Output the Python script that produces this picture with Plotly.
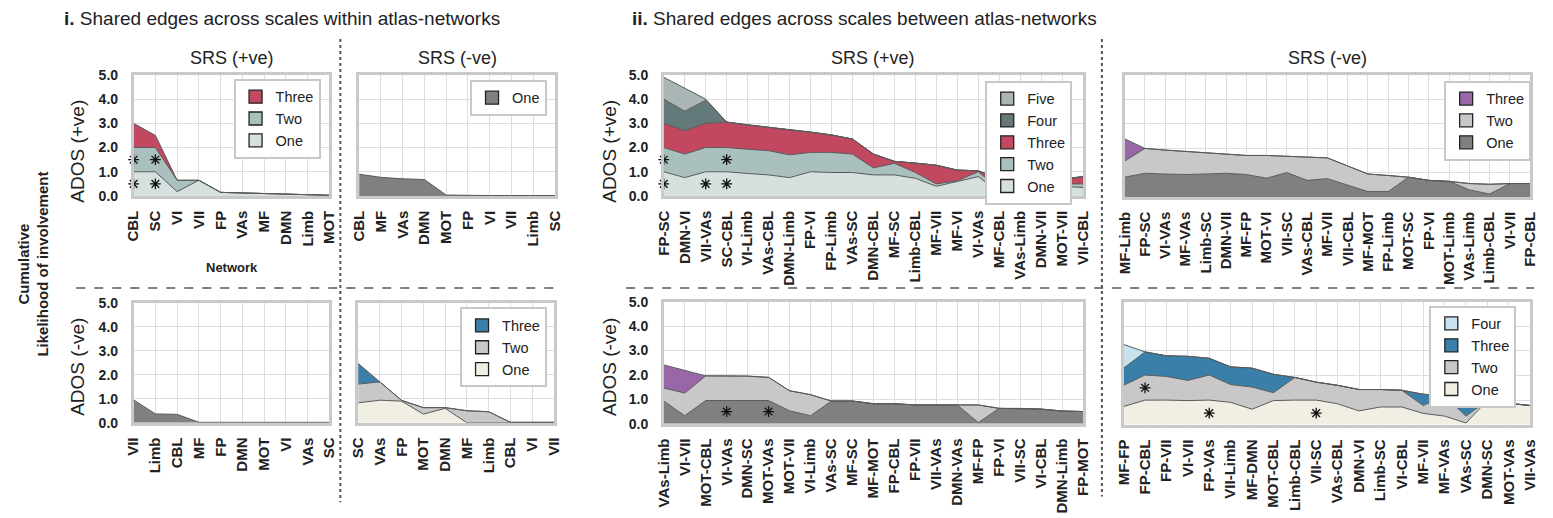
import plotly.graph_objects as go

W, H = 1553, 518
FONT = "Liberation Sans"
# the page body keeps its default 8px margin, so layout positions are given relative to it
PAGE_OFFSET = 8

# ---------------- data ----------------
# i. within atlas-networks
i_pos_pos_cats = ["CBL", "SC", "VI", "VII", "FP", "VAs", "MF", "DMN", "Limb", "MOT"]
i_pos_pos_one = [1.0, 1.0, 0.18, 0.65, 0.15, 0.13, 0.12, 0.10, 0.08, 0.03]
i_pos_pos_two = [1.0, 1.0, 0.47, 0.0, 0.0, 0.0, 0.0, 0.0, 0.0, 0.0]
i_pos_pos_three = [1.0, 0.5, 0.0, 0.0, 0.0, 0.0, 0.0, 0.0, 0.0, 0.0]
i_pos_pos_stars_x = ["CBL", "CBL", "SC", "SC"]
i_pos_pos_stars_y = [0.5, 1.5, 0.5, 1.5]

i_neg_pos_cats = ["CBL", "MF", "VAs", "DMN", "MOT", "FP", "VI", "VII", "Limb", "SC"]
i_neg_pos_one = [0.9, 0.77, 0.71, 0.68, 0.04, 0.02, 0.02, 0.02, 0.02, 0.02]

i_pos_neg_cats = ["VII", "Limb", "CBL", "MF", "FP", "DMN", "MOT", "VI", "VAs", "SC"]
i_pos_neg_one = [0.95, 0.37, 0.35, 0.02, 0.02, 0.02, 0.02, 0.02, 0.02, 0.02]

i_neg_neg_cats = ["SC", "VAs", "FP", "MOT", "DMN", "MF", "Limb", "CBL", "VI", "VII"]
i_neg_neg_one = [0.83, 0.94, 0.90, 0.36, 0.60, 0.0, 0.0, 0.0, 0.0, 0.0]
i_neg_neg_two = [0.78, 0.76, 0.03, 0.27, 0.03, 0.50, 0.46, 0.02, 0.02, 0.02]
i_neg_neg_three = [0.86, 0.0, 0.0, 0.0, 0.0, 0.0, 0.0, 0.0, 0.0, 0.0]

# ii. between atlas-networks
ii_pos_pos_cats = ["FP-SC", "DMN-VI", "VII-VAs", "SC-CBL", "VI-Limb", "VAs-CBL", "DMN-Limb",
                   "FP-VI", "FP-Limb", "VAs-SC", "DMN-CBL", "MF-SC", "Limb-CBL", "MF-VII",
                   "MF-VI", "VI-VAs", "MF-CBL", "VAs-Limb", "DMN-VII", "MOT-VII", "VII-CBL"]
ii_pos_pos_one = [1.0, 0.76, 1.0, 1.0, 0.93, 0.87, 0.76, 1.0, 0.97, 0.97, 0.87,
                  0.87, 0.73, 0.40, 0.60, 0.80, 0.15, 0.20, 0.20, 0.40, 0.35]
ii_pos_pos_two = [1.0, 0.97, 1.0, 1.0, 1.0, 1.0, 0.94, 0.80, 0.83, 0.76, 0.29,
                  0.48, 0.24, 0.10, 0.03, 0.20, 0.15, 0.0, 0.10, 0.10, 0.15]
ii_pos_pos_three = [1.0, 0.97, 1.0, 1.05, 1.0, 0.97, 1.03, 0.84, 0.72, 0.62, 0.57,
                    0.08, 0.39, 0.77, 0.44, 0.04, 0.40, 0.0, 0.40, 0.20, 0.30]
ii_pos_pos_four = [1.0, 0.80, 0.95, 0.0, 0.0, 0.0, 0.0, 0.0, 0.0, 0.0, 0.0,
                   0.0, 0.0, 0.0, 0.0, 0.0, 0.0, 0.47, 0.0, 0.0, 0.0]
ii_pos_pos_five = [0.90, 0.95, 0.05, 0.0, 0.0, 0.0, 0.0, 0.0, 0.0, 0.0, 0.0,
                   0.0, 0.0, 0.0, 0.0, 0.0, 0.0, 0.0, 0.0, 0.0, 0.0]
ii_pos_pos_stars_x = ["FP-SC", "FP-SC", "VII-VAs", "SC-CBL", "SC-CBL"]
ii_pos_pos_stars_y = [0.5, 1.5, 0.5, 0.5, 1.5]

ii_neg_pos_cats = ["MF-Limb", "FP-SC", "VI-VAs", "MF-VAs", "Limb-SC", "DMN-VII", "MF-FP",
                   "MOT-VI", "VII-SC", "VAs-CBL", "MF-VII", "VII-CBL", "MF-MOT", "FP-Limb",
                   "MOT-SC", "FP-VI", "MOT-Limb", "VAs-Limb", "Limb-CBL", "VI-VII", "FP-CBL"]
ii_neg_pos_one = [0.81, 0.97, 0.94, 0.92, 0.94, 0.97, 0.92, 0.77, 1.0, 0.68, 0.75,
                  0.48, 0.22, 0.22, 0.81, 0.68, 0.64, 0.29, 0.12, 0.55, 0.55]
ii_neg_pos_two = [0.66, 1.02, 0.98, 0.94, 0.89, 0.78, 0.78, 0.93, 0.66, 0.94, 0.85,
                  0.79, 0.72, 0.66, 0.0, 0.0, 0.0, 0.26, 0.40, 0.0, 0.0]
ii_neg_pos_three = [0.91, 0.0, 0.0, 0.0, 0.0, 0.0, 0.0, 0.0, 0.0, 0.0, 0.0,
                    0.0, 0.0, 0.0, 0.0, 0.0, 0.0, 0.0, 0.0, 0.0, 0.0]

ii_pos_neg_cats = ["VAs-Limb", "VI-VII", "MOT-CBL", "VI-VAs", "DMN-SC", "MOT-VAs", "MOT-VII",
                   "VI-Limb", "VAs-SC", "MF-SC", "MF-MOT", "FP-CBL", "FP-VII", "VII-VAs",
                   "DMN-VAs", "MF-FP", "FP-VI", "VII-SC", "VI-CBL", "DMN-Limb", "FP-MOT"]
ii_pos_neg_one = [0.93, 0.33, 0.95, 0.95, 0.95, 0.95, 0.53, 0.33, 0.93, 0.93, 0.82,
                  0.82, 0.77, 0.77, 0.77, 0.05, 0.63, 0.63, 0.60, 0.52, 0.50]
ii_pos_neg_two = [0.53, 0.93, 1.01, 1.01, 1.0, 0.95, 0.82, 0.86, 0.0, 0.0, 0.0,
                  0.0, 0.0, 0.0, 0.0, 0.72, 0.0, 0.0, 0.0, 0.0, 0.0]
ii_pos_neg_three = [0.95, 0.92, 0.0, 0.0, 0.0, 0.0, 0.0, 0.0, 0.0, 0.0, 0.0,
                    0.0, 0.0, 0.0, 0.0, 0.0, 0.0, 0.0, 0.0, 0.0, 0.0]
ii_pos_neg_stars_x = ["VI-VAs", "MOT-VAs"]
ii_pos_neg_stars_y = [0.5, 0.5]

ii_neg_neg_cats = ["MF-FP", "FP-CBL", "FP-VII", "VI-VII", "FP-VAs", "VII-Limb", "MF-DMN",
                   "MOT-CBL", "Limb-CBL", "VII-SC", "VAs-CBL", "DMN-VI", "Limb-SC", "VI-CBL",
                   "MF-VII", "MF-VAs", "VAs-SC", "DMN-SC", "MOT-VAs", "VII-VAs"]
ii_neg_neg_one = [0.74, 1.0, 1.0, 0.98, 1.0, 0.91, 0.63, 0.98, 1.0, 1.0,
                  0.85, 0.56, 0.72, 0.72, 0.46, 0.35, 0.07, 0.98, 0.87, 0.78]
ii_neg_neg_two = [0.86, 1.02, 0.96, 0.82, 1.02, 0.72, 0.90, 0.32, 0.92, 0.73,
                  0.75, 0.87, 0.71, 0.68, 0.32, 0.82, 0.28, 0.0, 0.0, 0.0]
ii_neg_neg_three = [0.70, 0.94, 0.84, 0.98, 0.68, 0.72, 0.77, 0.75, 0.0, 0.0,
                    0.0, 0.0, 0.0, 0.0, 0.46, 0.0, 0.82, 0.0, 0.0, 0.0]
ii_neg_neg_four = [0.96, 0.0, 0.0, 0.0, 0.0, 0.0, 0.0, 0.0, 0.0, 0.0,
                   0.0, 0.0, 0.0, 0.0, 0.0, 0.0, 0.0, 0.0, 0.0, 0.0]
ii_neg_neg_stars_x = ["FP-CBL", "FP-VAs", "VII-SC"]
ii_neg_neg_stars_y = [1.5, 0.47, 0.47]

# ---------------- styling ----------------
TEAL1, TEAL2, RED, SLATE, FIVE = "#d6e1df", "#a9c0be", "#c2485f", "#63797a", "#aab6b5"
GDARK, GLIGHT, PURPLE = "#808080", "#c8c8c8", "#9967a7"
CREAM, BLUE, LBLUE = "#f1efe3", "#3a7fa9", "#c8e1ef"
EDGE = "#5a5a5a"
TXT = "#222222"


def fx(x):
    return (x - PAGE_OFFSET) / W


def fy(y):
    return 1 - (y - PAGE_OFFSET) / H


fig = go.Figure()

# (cats, layers[(name, values, color)], stars, px-box(x0, x1, ytop, ybottom),
#  legend(right, top) or None, show y tick labels)
panels = [
    (i_pos_pos_cats, [("One", i_pos_pos_one, TEAL1), ("Two", i_pos_pos_two, TEAL2),
                      ("Three", i_pos_pos_three, RED)],
     (i_pos_pos_stars_x, i_pos_pos_stars_y), (134, 332, 77, 202), (323, 81), True),
    (i_neg_pos_cats, [("One", i_neg_pos_one, GDARK)], None, (362, 560, 77, 202), (552, 82), False),
    (i_pos_neg_cats, [("One", i_pos_neg_one, GDARK)], None, (134, 332, 312, 436), None, True),
    (i_neg_neg_cats, [("One", i_neg_neg_one, CREAM), ("Two", i_neg_neg_two, GLIGHT),
                      ("Three", i_neg_neg_three, BLUE)],
     None, (361, 559, 312, 436), (552, 317), False),
    (ii_pos_pos_cats, [("One", ii_pos_pos_one, TEAL1), ("Two", ii_pos_pos_two, TEAL2),
                       ("Three", ii_pos_pos_three, RED), ("Four", ii_pos_pos_four, SLATE),
                       ("Five", ii_pos_pos_five, FIVE)],
     (ii_pos_pos_stars_x, ii_pos_pos_stars_y), (670, 1094, 77, 202), (1083, 83), True),
    (ii_neg_pos_cats, [("One", ii_neg_pos_one, GDARK), ("Two", ii_neg_pos_two, GLIGHT),
                       ("Three", ii_neg_pos_three, PURPLE)],
     None, (1136, 1546, 77, 203), (1547, 83), False),
    (ii_pos_neg_cats, [("One", ii_pos_neg_one, GDARK), ("Two", ii_pos_neg_two, GLIGHT),
                       ("Three", ii_pos_neg_three, PURPLE)],
     (ii_pos_neg_stars_x, ii_pos_neg_stars_y), (670, 1094, 311, 437), None, True),
    (ii_neg_neg_cats, [("One", ii_neg_neg_one, CREAM), ("Two", ii_neg_neg_two, GLIGHT),
                       ("Three", ii_neg_neg_three, BLUE), ("Four", ii_neg_neg_four, LBLUE)],
     (ii_neg_neg_stars_x, ii_neg_neg_stars_y), (1135, 1546, 311, 438), (1532, 315), False),
]

layout = {}
legend_count = 0
for k, (cats, layers, stars, box, leg, ylabels) in enumerate(panels, start=1):
    xa, ya = ("x", "y") if k == 1 else (f"x{k}", f"y{k}")
    idx = list(range(len(cats)))
    leg_name = None
    if leg is not None:
        legend_count += 1
        leg_name = "legend" if legend_count == 1 else f"legend{legend_count}"
        layout[leg_name] = dict(
            x=fx(leg[0]), y=fy(leg[1]), xanchor="right", yanchor="top",
            bgcolor="white", bordercolor="#c8c8c8", borderwidth=2,
            traceorder="reversed", font=dict(family=FONT, size=14.5, color=TXT),
            tracegroupgap=0, itemwidth=30,
        )
    for name, vals, color in layers:
        fig.add_trace(go.Scatter(
            x=idx, y=vals, mode="lines", stackgroup=f"s{k}", name=name,
            line=dict(color=EDGE, width=1), fillcolor=color,
            xaxis=xa, yaxis=ya, showlegend=False, hoverinfo="skip",
        ))
        if leg_name is not None:
            # square swatch used as the legend key of this layer
            fig.add_trace(go.Scatter(
                x=[None], y=[None], mode="markers", name=name, legend=leg_name,
                marker=dict(symbol="square", size=13, color=color,
                            line=dict(color="#222222", width=1.3)),
                xaxis=xa, yaxis=ya, showlegend=True, hoverinfo="skip",
            ))
    if stars is not None:
        sx = [cats.index(c) for c in stars[0]]
        fig.add_trace(go.Scatter(
            x=sx, y=stars[1], mode="markers", showlegend=False, hoverinfo="skip",
            cliponaxis=False,
            marker=dict(symbol="asterisk-open", size=9, color="#111",
                        line=dict(color="#111", width=1.3)),
            xaxis=xa, yaxis=ya,
        ))
    x0, x1, yt, yb = box
    layout["xaxis" if k == 1 else f"xaxis{k}"] = dict(
        domain=[fx(x0), fx(x1)], anchor=ya, range=[0, len(cats) - 1],
        tickvals=idx, ticktext=cats, tickangle=-90, ticks="", ticklabelstandoff=6,
        tickfont=dict(family=FONT, size=15, color=TXT, weight="bold"),
        showgrid=True, gridcolor="#dddddd", gridwidth=1,
        showline=True, mirror=True, linecolor="#c9c9c9", linewidth=2.5, zeroline=False,
    )
    layout["yaxis" if k == 1 else f"yaxis{k}"] = dict(
        domain=[fy(yb), fy(yt)], anchor=xa, range=[0, 5], dtick=1, tickformat=".1f",
        showticklabels=ylabels, ticks="", ticklabelstandoff=10,
        tickfont=dict(family=FONT, size=14, color=TXT, weight="bold"),
        showgrid=True, gridcolor="#dddddd", gridwidth=1,
        showline=True, mirror=True, linecolor="#c9c9c9", linewidth=2.5, zeroline=False,
    )

fig.update_layout(**layout)


def text(x, y, s, size, bold=False, angle=0, xanchor="center"):
    return dict(x=fx(x), y=fy(y), xref="paper", yref="paper", text=s, showarrow=False,
                xanchor=xanchor, yanchor="middle", textangle=angle,
                font=dict(family=FONT, size=size, color=TXT, weight="bold" if bold else "normal"))


annotations = [
    text(62, 19, "<b>i.</b> Shared edges across scales within atlas-networks", 19, xanchor="left"),
    text(636, 19, "<b>ii.</b> Shared edges across scales between atlas-networks", 19, xanchor="left"),
    text(233, 60, "SRS (+ve)", 18),
    text(461, 60, "SRS (-ve)", 18),
    text(882, 60, "SRS (+ve)", 18),
    text(1341, 60, "SRS (-ve)", 18),
    text(77, 156, "ADOS (+ve)", 19, angle=-90),
    text(77, 378, "ADOS (-ve)", 19, angle=-90),
    text(615, 156, "ADOS (+ve)", 19, angle=-90),
    text(615, 378, "ADOS (-ve)", 19, angle=-90),
    text(233, 276, "Network", 13, bold=True),
    text(33, 272, "Cumulative<br>Likelihood of involvement", 15, bold=True, angle=-90),
]

shapes = [
    dict(type="line", xref="paper", yref="paper", x0=fx(343), x1=fx(343), y0=fy(40), y1=fy(518),
         line=dict(color="#555555", width=2, dash="dot")),
    dict(type="line", xref="paper", yref="paper", x0=fx(1113), x1=fx(1113), y0=fy(40), y1=fy(512),
         line=dict(color="#555555", width=2, dash="dot")),
    dict(type="line", xref="paper", yref="paper", x0=fx(76), x1=fx(560), y0=fy(297), y1=fy(297),
         line=dict(color="#555555", width=1.5, dash="dash")),
    dict(type="line", xref="paper", yref="paper", x0=fx(632), x1=fx(1550), y0=fy(297), y1=fy(297),
         line=dict(color="#555555", width=1.5, dash="dash")),
]

fig.update_layout(
    width=W, height=H, margin=dict(l=0, r=0, t=0, b=0),
    paper_bgcolor="white", plot_bgcolor="white",
    annotations=annotations, shapes=shapes,
    font=dict(family=FONT, color=TXT),
)

fig.write_html("out.html")
